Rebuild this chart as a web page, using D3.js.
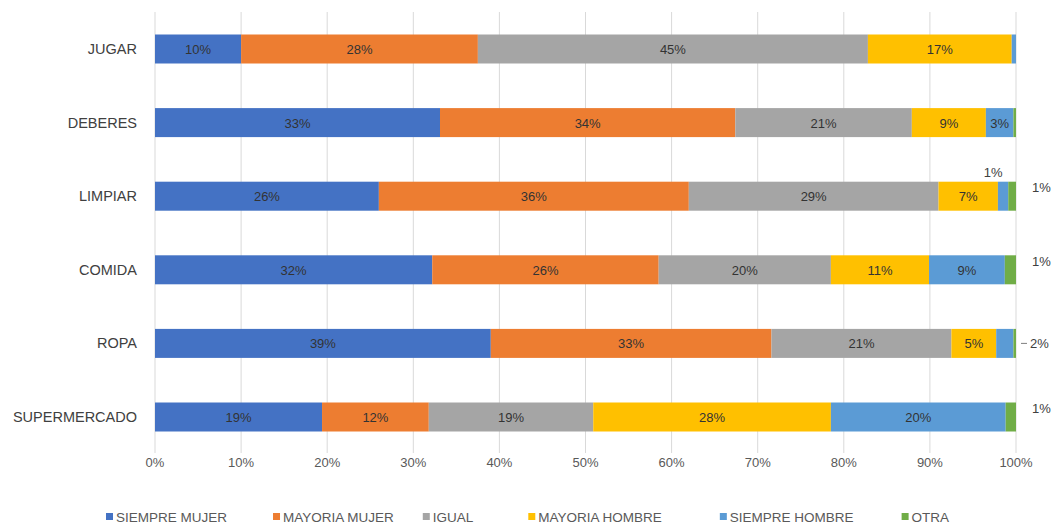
<!DOCTYPE html>
<html><head><meta charset="utf-8">
<script src="https://cdn.jsdelivr.net/npm/d3@7"></script>
<style>
html,body{margin:0;padding:0;background:#fff;}
svg text{font-family:"Liberation Sans",Arial,sans-serif;}
</style></head>
<body><svg id="c" width="1055" height="527"></svg>
<script>
const categories = ["JUGAR","DEBERES","LIMPIAR","COMIDA","ROPA","SUPERMERCADO"];
const seriesNames = ["SIEMPRE MUJER","MAYORIA MUJER","IGUAL","MAYORIA HOMBRE","SIEMPRE HOMBRE","OTRA"];
const siempreMujer  = [10.0, 33.1, 26.0, 32.2, 39.0, 19.4];
const mayoriaMujer  = [27.5, 34.3, 36.0, 26.3, 32.6, 12.4];
const igual         = [45.3, 20.5, 29.0, 20.0, 20.9, 19.1];
const mayoriaHombre = [16.7,  8.6,  6.9, 11.4,  5.2, 27.6];
const siempreHombre = [ 0.5,  3.2,  1.2,  8.8,  2.0, 20.3];
const otra          = [ 0.0,  0.3,  0.9,  1.3,  0.3,  1.2];
const xTicks = [0,10,20,30,40,50,60,70,80,90,100];
const colors = ["#4472C4","#ED7D31","#A5A5A5","#FFC000","#5B9BD5","#70AD47"];
// labels drawn outside the bars: [category, series index, placement]
const outsideLabels = [
  ["LIMPIAR", 4, "above"],
  ["LIMPIAR", 5, "right"],
  ["COMIDA", 5, "right"],
  ["ROPA", 4, "leader"],
  ["SUPERMERCADO", 5, "right"]
];

const seriesValues = [siempreMujer, mayoriaMujer, igual, mayoriaHombre, siempreHombre, otra];
const rows = categories.map((c,i)=>{const o={cat:c}; seriesNames.forEach((s,j)=>o[s]=seriesValues[j][i]); return o;});
const stacked = d3.stack().keys(seriesNames)(rows);

const svg = d3.select("#c");
const x = d3.scaleLinear().domain([0,100]).range([155,1016]);
const y = d3.scaleBand().domain(categories).range([12.2,453.8]).paddingInner(0.606).paddingOuter(0.303);

// gridlines
svg.append("g").selectAll("line").data(xTicks).join("line")
  .attr("x1",d=>x(d)).attr("x2",d=>x(d)).attr("y1",12).attr("y2",453)
  .attr("stroke","#d9d9d9").attr("stroke-width",1);

// x axis labels
svg.append("g").selectAll("text").data(xTicks).join("text")
  .attr("x",d=>x(d)).attr("y",467).attr("text-anchor","middle")
  .attr("font-size",13).attr("fill","#595959").text(d=>d+"%");

// category labels
svg.append("g").selectAll("text").data(categories).join("text")
  .attr("x",137).attr("y",d=>y(d)+y.bandwidth()/2+5).attr("text-anchor","end")
  .attr("font-size",14.5).attr("fill","#404040").text(d=>d);

// bars
const g = svg.append("g");
stacked.forEach((layer,li)=>{
  g.append("g").selectAll("rect").data(layer).join("rect")
    .attr("x",d=>x(d[0])).attr("width",d=>x(d[1])-x(d[0]))
    .attr("y",d=>y(d.data.cat)).attr("height",y.bandwidth())
    .attr("fill",colors[li]);
  g.append("g").selectAll("text").data(layer.filter(d=>d[1]-d[0]>=2.8)).join("text")
    .attr("x",d=>(x(d[0])+x(d[1]))/2).attr("y",d=>y(d.data.cat)+y.bandwidth()/2+5)
    .attr("text-anchor","middle").attr("font-size",13).attr("fill","#333333")
    .text(d=>Math.round(d[1]-d[0])+"%");
});

// outside labels
outsideLabels.forEach(([cat,si,place])=>{
  const seg = stacked[si][categories.indexOf(cat)];
  const t = Math.round(seg[1]-seg[0])+"%";
  const yc = y(cat)+y.bandwidth()/2;
  if(place==="above"){
    svg.append("text").attr("x",(x(seg[0])+x(seg[1]))/2-10).attr("y",y(cat)-5)
      .attr("text-anchor","middle").attr("font-size",13).attr("fill","#404040").text(t);
  } else if(place==="right"){
    svg.append("text").attr("x",x(100)+16).attr("y",yc-4)
      .attr("font-size",13).attr("fill","#404040").text(t);
  } else {
    svg.append("line").attr("x1",x(100)+5).attr("x2",x(100)+11).attr("y1",yc).attr("y2",yc)
      .attr("stroke","#7f7f7f");
    svg.append("text").attr("x",x(100)+14).attr("y",yc+5)
      .attr("font-size",13).attr("fill","#404040").text(t);
  }
});

// legend
const leg = svg.append("g");
let lx = 106;
const gaps = [46, 29, 55, 58, 48, 0];
seriesNames.forEach((s,i)=>{
  leg.append("rect").attr("x",lx).attr("y",513).attr("width",7).attr("height",7).attr("fill",colors[i]);
  const tx = leg.append("text").attr("x",lx+10).attr("y",522).attr("font-size",13.5)
    .attr("fill","#595959").text(s);
  lx += 10 + tx.node().getComputedTextLength() + gaps[i];
});
</script></body></html>
